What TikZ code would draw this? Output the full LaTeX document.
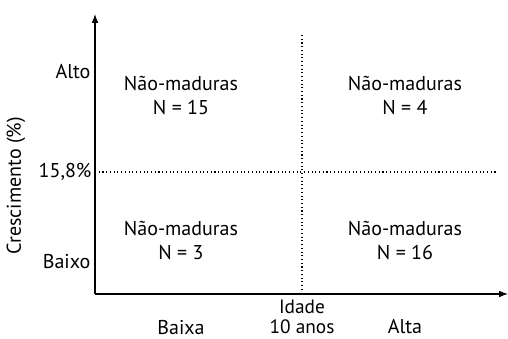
\documentclass[tikz,border=0pt]{standalone}
\usepackage{fontspec}
\setmainfont{PT Sans}
\usetikzlibrary{arrows.meta,positioning}

\begin{document}
\begin{tikzpicture}[x=0.75pt, y=-0.75pt, >=Latex,
  lbl/.style={font=\fontsize{15}{18}\selectfont, inner sep=1pt},
  cell/.style={lbl, align=center},
  grid/.style={dotted, line width=0.8pt}]
\useasboundingbox (0,0) rectangle (508,339);
% axes
\coordinate (o) at (95,294);
\coordinate (ytop) at (95,14);
\coordinate (xend) at (508,294);
\draw[->, line width=0.8pt] (o) -- (ytop);
\draw[->, line width=0.8pt] (o) -- (xend);
% dividing lines
\coordinate (vtop) at (302,35);
\coordinate (vbot) at (302,294);
\coordinate (hleft) at (95,172);
\coordinate (hright) at (498,172);
\draw[grid] (vtop) -- (vbot);
\draw[grid] (hleft) -- (hright);
% y labels
\node[lbl, anchor=east] (alto) at (92,72) {Alto};
\node[lbl, anchor=east] (limiar) at (93,172) {15,8\%};
\node[lbl, anchor=east] (baixo) at (92,262) {Baixo};
\node[lbl, rotate=90] (ylab) at (16,186) {Crescimento (\%)};
% cells
\node[cell] (c11) at (181,95) {Não-maduras\\N = 15};
\node[cell] (c12) at (405,95) {Não-maduras\\N = 4};
\node[cell] (c21) at (181,240) {Não-maduras\\N = 3};
\node[cell] (c22) at (405,240) {Não-maduras\\N = 16};
% x labels
\node[cell, font=\fontsize{14.5}{14.5}\selectfont] (idade) at (302,317) {Idade\\10 anos};
\node[lbl] (baixa) at (181,327) {Baixa};
\node[lbl] (alta) at (405,327) {Alta};
\end{tikzpicture}
\end{document}
